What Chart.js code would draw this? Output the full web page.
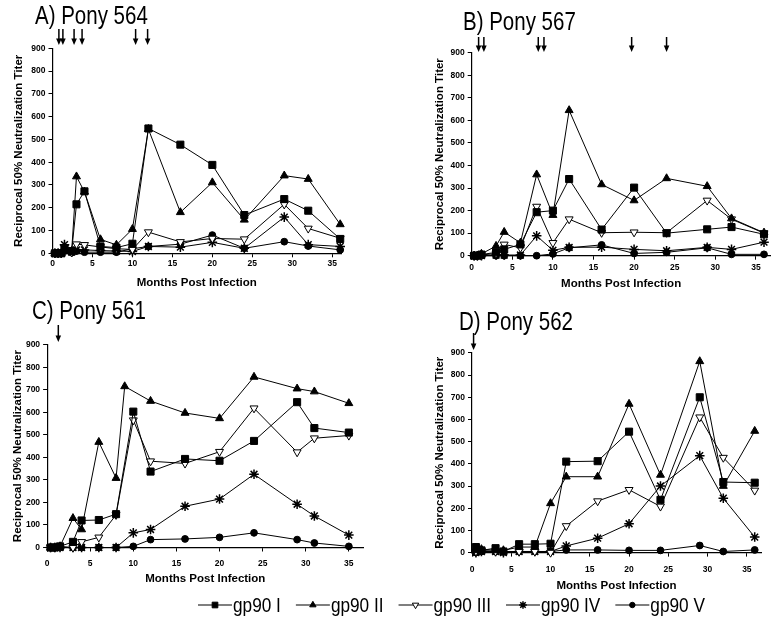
<!DOCTYPE html>
<html><head><meta charset="utf-8">
<script src="https://cdn.jsdelivr.net/npm/chart.js"></script>
<style>
html,body{margin:0;padding:0;background:#fff;overflow:hidden}
#wrap{position:relative;width:777px;height:622px;background:#fff}
canvas{position:absolute;left:0;top:0}
</style></head>
<body><div id="wrap">
<canvas id="cA" width="777" height="622"></canvas>
<canvas id="cB" width="777" height="622"></canvas>
<canvas id="cC" width="777" height="622"></canvas>
<canvas id="cD" width="777" height="622"></canvas>
</div>
<script>
// ---------- data ----------
const seriesNames = ['gp90 I', 'gp90 II', 'gp90 III', 'gp90 IV', 'gp90 V'];
const xTickValues = [0, 5, 10, 15, 20, 25, 30, 35];
const yTickValues = [0, 100, 200, 300, 400, 500, 600, 700, 800, 900];

// A) Pony 564
const monthsA = [0.3, 0.7, 1.1, 1.5, 2.4, 3, 4, 6, 8, 10, 12, 16, 20, 24, 29, 32, 36];
const a_I   = [0, 0, 0, 20, 10, 215, 272, 30, 25, 42, 548, 477, 388, 168, 238, 187, 63];
const a_II  = [0, 0, 0, 15, 10, 337, 270, 61, 37, 106, 545, 180, 311, 147, 341, 326, 127];
const a_III = [0, 0, 0, 25, 5, 40, 37, 28, 20, 17, 93, 50, 65, 62, 215, 109, 66];
const a_IV  = [0, 0, 0, 38, 5, 15, 15, 12, 10, 8, 30, 27, 48, 22, 159, 38, 30];
const a_V   = [0, 0, 0, 10, 3, 10, 5, 5, 5, 20, 30, 40, 80, 22, 51, 32, 15];
const arrowsA = [0.8, 1.3, 2.7, 3.7, 10.4, 11.9];

// B) Pony 567
const monthsB = [0.3, 0.7, 1.2, 3, 4, 6, 8, 10, 12, 16, 20, 24, 29, 32, 36];
const b_I   = [0, 0, 5, 15, 28, 50, 193, 200, 340, 116, 302, 100, 117, 127, 95];
const b_II  = [0, 0, 8, 43, 105, 57, 360, 180, 645, 316, 245, 343, 308, 165, 102];
const b_III = [0, 0, 3, 10, 50, 35, 218, 57, 162, 102, 104, 102, 245, 162, 100];
const b_IV  = [0, 0, 0, 3, 3, 3, 88, 24, 37, 38, 28, 22, 37, 28, 60];
const b_V   = [0, 0, 0, 0, 0, 0, 0, 8, 35, 48, 10, 15, 35, 6, 6];
const arrowsB = [0.85, 1.5, 8.2, 8.9, 19.7, 24];

// C) Pony 561
const monthsC   = [0.4, 0.9, 1.5, 3, 4, 6, 8, 10, 12, 16, 20, 24, 29, 31, 35];
const monthsCII = [0.4, 0.9, 1.5, 3, 4, 6, 8, 9, 12, 16, 20, 24, 29, 31, 35];
const c_I   = [0, 0, 5, 25, 120, 122, 148, 603, 337, 393, 385, 473, 645, 530, 510];
const c_II  = [0, 0, 5, 130, 80, 468, 308, 715, 650, 597, 573, 757, 705, 692, 640];
const c_III = [0, 0, 5, 0, 25, 45, 145, 565, 383, 373, 425, 618, 423, 485, 497];
const c_IV  = [0, 0, 0, 0, 0, 0, 0, 65, 80, 183, 215, 325, 192, 140, 55];
const c_V   = [0, 0, 0, 0, 0, 0, 0, 5, 35, 38, 45, 65, 35, 20, 5];
const arrowsC = [1.3];

// D) Pony 562
const monthsD = [0.5, 1.2, 3, 4, 6, 8, 10, 12, 16, 20, 24, 29, 32, 36];
const d_I   = [25, 10, 20, 5, 38, 38, 40, 410, 412, 545, 238, 700, 318, 315];
const d_II  = [10, 15, 10, 10, 25, 25, 222, 342, 342, 670, 350, 862, 300, 548];
const d_III = [5, 10, 5, 5, 5, 5, 0, 120, 232, 283, 208, 610, 428, 280];
const d_IV  = [0, 5, 5, 0, 5, 5, 5, 30, 65, 130, 300, 437, 245, 70];
const d_V   = [0, 5, 5, 5, 5, 5, 5, 12, 12, 10, 10, 32, 5, 12];
const arrowsD = [0.2];

// ---------- styles ----------
const FONT = "'Liberation Sans', Arial, Helvetica, sans-serif";
const NARROW_SCALE = 0.82;
const markerStyles = [
  {pointStyle: 'rect', pointRadius: 5, pointBackgroundColor: '#000', pointRotation: 0, pointBorderWidth: 1},
  {pointStyle: 'triangle', pointRadius: 4.6, pointBackgroundColor: '#000', pointRotation: 0, pointBorderWidth: 1},
  {pointStyle: 'triangle', pointRadius: 4.6, pointBackgroundColor: '#fff', pointRotation: 180, pointBorderWidth: 1},
  {pointStyle: 'star', pointRadius: 4.8, pointBackgroundColor: '#000', pointRotation: 0, pointBorderWidth: 1.5},
  {pointStyle: 'circle', pointRadius: 3.4, pointBackgroundColor: '#000', pointRotation: 0, pointBorderWidth: 1}
];

function makeDatasets(monthsList, valuesList) {
  return valuesList.map((vals, i) => Object.assign({
    label: seriesNames[i],
    data: vals.map((v, j) => ({x: monthsList[i][j], y: v})),
    borderColor: '#000', borderWidth: 1, pointBorderColor: '#000',
    pointHoverRadius: 5, tension: 0, fill: false, clip: false
  }, markerStyles[i]));
}

function drawMarker(ctx, ds, x, y, scale) {
  ctx.save();
  ctx.fillStyle = ds.pointBackgroundColor; ctx.strokeStyle = '#000';
  ctx.lineWidth = ds.pointBorderWidth;
  const r = ds.pointRadius * scale;
  if (Chart.helpers && Chart.helpers.drawPoint) {
    Chart.helpers.drawPoint(ctx, {pointStyle: ds.pointStyle, radius: r, rotation: ds.pointRotation, borderWidth: ds.pointBorderWidth}, x, y);
  } else {
    ctx.beginPath(); ctx.arc(x, y, r, 0, Math.PI * 2); ctx.fill(); ctx.stroke();
  }
  ctx.restore();
}

// draws condensed text (like the narrow Helvetica of the original figure); returns drawn width
function narrowText(ctx, text, x, y) {
  ctx.save();
  ctx.translate(x, y);
  ctx.scale(NARROW_SCALE, 1);
  ctx.fillText(text, 0, 0);
  const w = ctx.measureText(text).width * NARROW_SCALE;
  ctx.restore();
  return w;
}

const decoPlugin = {
  id: 'deco',
  afterDraw(chart, args, o) {
    const ctx = chart.ctx, xs = chart.scales.x;
    ctx.save();
    ctx.fillStyle = '#000'; ctx.strokeStyle = '#000';
    ctx.font = '25px ' + FONT; ctx.textAlign = 'left'; ctx.textBaseline = 'alphabetic';
    narrowText(ctx, o.title, o.titleX, o.titleY);
    (o.arrows || []).forEach(m => {
      const x = xs.getPixelForValue(m);
      ctx.lineWidth = 1.5;
      ctx.beginPath(); ctx.moveTo(x, o.arrowTop); ctx.lineTo(x, o.arrowTip - 4); ctx.stroke();
      ctx.beginPath(); ctx.moveTo(x - 2.8, o.arrowTip - 6.5); ctx.lineTo(x + 2.8, o.arrowTip - 6.5);
      ctx.lineTo(x, o.arrowTip); ctx.closePath(); ctx.fill();
    });
    if (o.legend) {
      let x = o.legend.x; const y = o.legend.y;
      chart.data.datasets.forEach(ds => {
        ctx.lineWidth = 1.2; ctx.strokeStyle = '#000';
        ctx.beginPath(); ctx.moveTo(x, y); ctx.lineTo(x + 34, y); ctx.stroke();
        drawMarker(ctx, ds, x + 17, y, 0.8);
        ctx.font = '21px ' + FONT; ctx.textBaseline = 'middle'; ctx.fillStyle = '#000';
        const w = narrowText(ctx, ds.label, x + 35, y + 1);
        x += 35 + w + o.legend.gap;
      });
    }
    ctx.restore();
  }
};

function makePanel(id, datasets, L, decoOpts) {
  const titleLH = 11.5 * 1.2;
  const Hx = L.xTitleY + titleLH / 2 - L.bottom;
  const padLeft = L.yTitleX - titleLH / 2;
  const tickFont = {family: FONT, size: 8.5, weight: 'bold'};
  const titleFont = {family: FONT, size: 11.5, weight: 'bold'};
  return new Chart(document.getElementById(id), {
    type: 'line',
    data: {datasets},
    options: {
      responsive: false, animation: false, devicePixelRatio: 1,
      layout: {padding: {left: padLeft, right: 777 - L.right, top: L.top, bottom: 622 - L.bottom - Hx}},
      plugins: {legend: {display: false}, tooltip: {enabled: false}, deco: decoOpts},
      scales: {
        x: {
          type: 'linear', min: 0, max: L.xMax,
          afterBuildTicks: s => { s.ticks = xTickValues.map(v => ({value: v})); },
          afterFit: s => { s.height = Hx; },
          ticks: {font: tickFont, color: '#000', padding: L.tickPad, maxRotation: 0, autoSkip: false},
          grid: {display: true, drawOnChartArea: false, drawTicks: true, tickLength: 4, color: '#000', lineWidth: 1},
          border: {display: true, color: '#000', width: 1.2},
          title: {display: true, text: 'Months Post Infection', font: titleFont, color: '#000', padding: {top: 0, bottom: 0}}
        },
        y: {
          type: 'linear', min: 0, max: 900,
          afterBuildTicks: s => { s.ticks = yTickValues.map(v => ({value: v})); },
          afterFit: s => { s.width = L.left - padLeft; },
          ticks: {font: tickFont, color: '#000', padding: 3, autoSkip: false},
          grid: {display: true, drawOnChartArea: false, drawTicks: true, tickLength: 4, color: '#000', lineWidth: 1},
          border: {display: true, color: '#000', width: 1.2},
          title: {display: true, text: 'Reciprocal 50% Neutralization Titer', font: titleFont, color: '#000', padding: {top: 0, bottom: 0}}
        }
      }
    },
    plugins: [decoPlugin]
  });
}

makePanel('cA',
  makeDatasets([monthsA, monthsA, monthsA, monthsA, monthsA], [a_I, a_II, a_III, a_IV, a_V]),
  {left: 52.5, right: 341, top: 48.3, bottom: 253.3, xMax: 36.1, yTitleX: 19, tickPad: 1.5, xTitleY: 282.5},
  {title: 'A) Pony 564', titleX: 35, titleY: 24, arrows: arrowsA, arrowTop: 29, arrowTip: 45});

makePanel('cB',
  makeDatasets([monthsB, monthsB, monthsB, monthsB, monthsB], [b_I, b_II, b_III, b_IV, b_V]),
  {left: 471.7, right: 773, top: 52.8, bottom: 255.7, xMax: 36.8, yTitleX: 440, tickPad: 2.8, xTitleY: 284},
  {title: 'B) Pony 567', titleX: 463, titleY: 30, arrows: arrowsB, arrowTop: 37, arrowTip: 52});

makePanel('cC',
  makeDatasets([monthsC, monthsCII, monthsC, monthsC, monthsC], [c_I, c_II, c_III, c_IV, c_V]),
  {left: 47.1, right: 363.5, top: 344.7, bottom: 547.5, xMax: 36.7, yTitleX: 18, tickPad: 7, xTitleY: 579},
  {title: 'C) Pony 561', titleX: 32, titleY: 319, arrows: arrowsC, arrowTop: 325, arrowTip: 342});

makePanel('cD',
  makeDatasets([monthsD, monthsD, monthsD, monthsD, monthsD], [d_I, d_II, d_III, d_IV, d_V]),
  {left: 472, right: 761, top: 352.9, bottom: 552.6, xMax: 36.8, yTitleX: 440, tickPad: 8, xTitleY: 586},
  {title: 'D) Pony 562', titleX: 459, titleY: 329.5, arrows: arrowsD, arrowTop: 333, arrowTip: 350,
   legend: {x: 198, y: 605, gap: 15}});
</script>
</body></html>
